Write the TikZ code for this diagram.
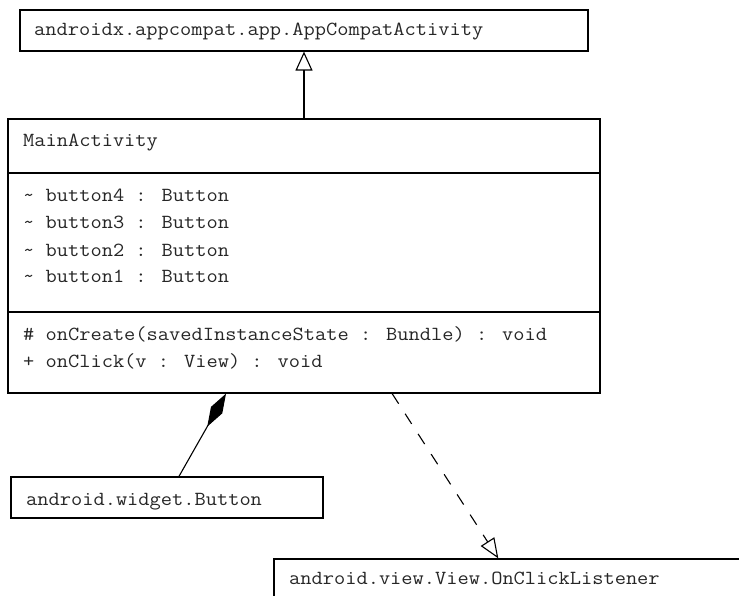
\documentclass[tikz,border=0pt]{standalone}
\usepackage{fontspec}
\usepackage{graphicx}
\usetikzlibrary{arrows.meta}

% monospaced member text, widened a little to typewriter proportions
\newcommand{\umltext}[1]{\scalebox{1.09}[1]{#1}}

\tikzset{
  classbox/.style={draw=black, line width=1.2pt, rectangle, inner sep=0pt},
  member/.style={anchor=base west, inner sep=0pt, text=black!85,
    font=\fontsize{20}{24}\selectfont\ttfamily},
  rule/.style={line width=1.2pt},
  link/.style={line width=1.1pt},
  inherits/.style={link, -{Triangle[open, length=19pt, width=17pt]}},
  composed/.style={link, {Diamond[length=38pt, width=13pt]}-},
  realizes/.style={link, dash pattern=on 12pt off 12pt,
    -{Triangle[open, length=20pt, width=16pt]}}
}

\begin{document}
\begin{tikzpicture}[x=1pt, y=-1pt]
  \useasboundingbox (0,0) rectangle (739,596);
  \clip (0,0) rectangle (739,596);

  % class boxes
  \node[classbox, minimum width=568pt, minimum height=41pt] (base) at (304,30.5) {};
  \node[classbox, minimum width=592pt, minimum height=274pt] (main) at (304,256) {};
  \node[classbox, minimum width=312pt, minimum height=41pt] (btn) at (167,497.5) {};
  \node[classbox, minimum width=475pt, minimum height=40pt] (lsn) at (511.5,579) {};

  % compartments of MainActivity
  \draw[rule] (main.west |- 0,173) -- (main.east |- 0,173);
  \draw[rule] (main.west |- 0,312) -- (main.east |- 0,312);

  % texts
  \node[member] (tbase) at (34,36) {\umltext{androidx.appcompat.app.AppCompatActivity}};
  \node[member] (tmain) at (23,147) {\umltext{MainActivity}};
  \node[member] (a4) at (23,202) {\umltext{\textasciitilde{} button4 : Button}};
  \node[member] (a3) at (23,229) {\umltext{\textasciitilde{} button3 : Button}};
  \node[member] (a2) at (23,256.5) {\umltext{\textasciitilde{} button2 : Button}};
  \node[member] (a1) at (23,283) {\umltext{\textasciitilde{} button1 : Button}};
  \node[member] (m1) at (23,340) {\umltext{\# onCreate(savedInstanceState : Bundle) : void}};
  \node[member] (m2) at (23,367) {\umltext{+ onClick(v : View) : void}};
  \node[member] (tbtn) at (26,505) {\umltext{android.widget.Button}};
  \node[member] (tlsn) at (289,584) {\umltext{android.view.View.OnClickListener}};

  % relations
  \draw[inherits] (main) -- (base);
  \draw[composed] (main) -- (btn);
  \draw[realizes] (main) -- (lsn);
\end{tikzpicture}
\end{document}
